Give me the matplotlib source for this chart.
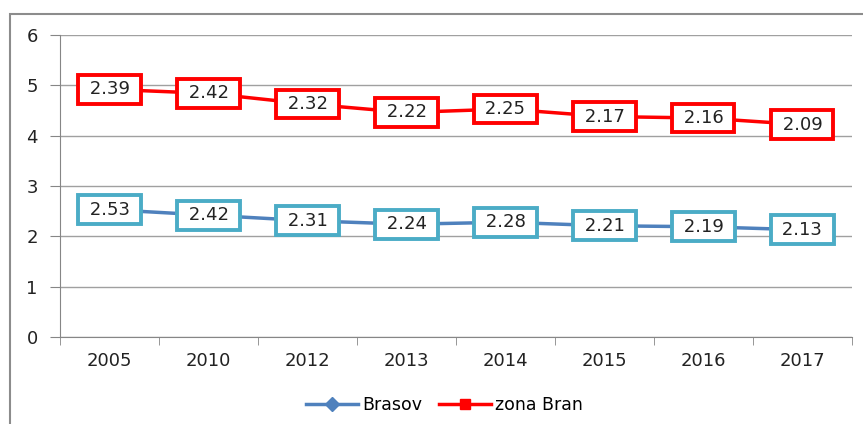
import numpy as np
import matplotlib
matplotlib.use('Agg')
import matplotlib.pyplot as plt
from matplotlib.patches import Rectangle

# data (stacked line chart)
years = ['2005', '2010', '2012', '2013', '2014', '2015', '2016', '2017']
brasov = [2.53, 2.42, 2.31, 2.24, 2.28, 2.21, 2.19, 2.13]
zona_bran = [2.39, 2.42, 2.32, 2.22, 2.25, 2.17, 2.16, 2.09]

x = np.arange(len(years))
bran_stacked = np.array(brasov) + np.array(zona_bran)

fig = plt.figure(figsize=(8.63, 4.24), dpi=100)
ax = fig.add_axes([0.0695, 0.2052, 0.9175, 0.7123])

# outer chart border (left and top visible)
fig.patches.append(Rectangle((10 / 863, -0.05), 1.2, 1 - 14 / 424 + 0.05,
                             transform=fig.transFigure, fill=False,
                             edgecolor='#8c8c8c', linewidth=1.5))

grid_col = '#a0a0a0'
ax.set_ylim(0, 6)
ax.set_xlim(-0.5, len(years) - 0.5)
ax.set_yticks(range(0, 7))
ax.yaxis.grid(True, color=grid_col, linewidth=1)
ax.set_axisbelow(True)

for s in ['top', 'right']:
    ax.spines[s].set_visible(False)
for s in ['left', 'bottom']:
    ax.spines[s].set_color('#868686')

ax.set_xticks(x)
ax.set_xticklabels(years)
ax.set_xticks(np.arange(-0.5, len(years)), minor=True)
ax.tick_params(axis='x', which='major', length=0, labelsize=13, pad=11, colors='#222222')
ax.tick_params(axis='x', which='minor', length=6, color='#868686')
ax.tick_params(axis='y', length=7, color='#868686', labelsize=13, pad=9, colors='#222222')

ax.plot(x, brasov, color='#4F81BD', linewidth=2.5, marker='D', markersize=7, label='Brasov', zorder=3)
ax.plot(x, bran_stacked, color='#FF0000', linewidth=2.5, marker='s', markersize=7, label='zona Bran', zorder=3)

for xi, yv, lab in zip(x, brasov, brasov):
    ax.text(xi, yv, ' %.2f ' % lab, ha='center', va='center', fontsize=13, color='#222222', zorder=5,
            bbox=dict(boxstyle='square,pad=0.3', facecolor='white', edgecolor='#4BACC6', linewidth=2.8))
for xi, yv, lab in zip(x, bran_stacked, zona_bran):
    ax.text(xi, yv, ' %.2f ' % lab, ha='center', va='center', fontsize=13, color='#222222', zorder=5,
            bbox=dict(boxstyle='square,pad=0.3', facecolor='white', edgecolor='#FF0000', linewidth=2.8))

fig.legend(loc='center', bbox_to_anchor=(0.515, 0.045), ncol=2, frameon=False, fontsize=12.5,
           handlelength=3, columnspacing=1.0, handletextpad=0.2)

fig.savefig('out.png', dpi=100)
